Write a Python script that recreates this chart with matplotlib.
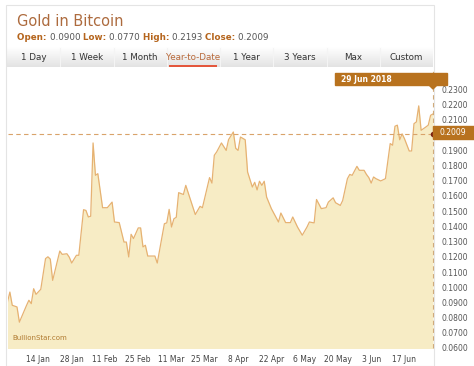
import numpy as np
import pandas as pd
import matplotlib
matplotlib.use('Agg')
import matplotlib.pyplot as plt
from matplotlib.patches import Rectangle, Polygon
from matplotlib.text import Annotation
from matplotlib.colors import LinearSegmentedColormap

# Data: gold priced in bitcoin, 2018 year-to-date (day offsets from 1 Jan)
start = '2018-01-01'
day_offset = [0, 1, 2, 4, 5, 8, 9, 10, 11, 12,
              14, 16, 17, 18, 19, 22, 23, 25, 26, 27,
              29, 30, 32, 33, 34, 35, 36, 37, 38, 40,
              42, 44, 45, 47, 49, 50, 51, 52, 53, 55,
              56, 57, 58, 59, 62, 63, 66, 67, 68, 69,
              70, 71, 72, 74, 75, 79, 81, 82, 85, 86,
              87, 88, 90, 92, 93, 95, 96, 97, 98, 100,
              101, 103, 104, 105, 106, 107, 108, 109, 111, 112,
              114, 115, 117, 119, 120, 122, 124, 126, 127, 129,
              130, 132, 134, 135, 137, 138, 140, 141, 143, 144,
              145, 147, 148, 150, 151, 152, 153, 154, 155, 157,
              159, 161, 162, 163, 164, 165, 166, 167, 169, 170,
              171, 172, 173, 174, 176, 177, 178, 179]
price = [0.0903, 0.0968, 0.0881, 0.0870, 0.0770, 0.0880, 0.0914, 0.0892, 0.0990, 0.0953,
         0.0986, 0.1188, 0.1200, 0.1185, 0.1045, 0.1238, 0.1216, 0.1220, 0.1197, 0.1159,
         0.1210, 0.1210, 0.1510, 0.1505, 0.1462, 0.1467, 0.1949, 0.1736, 0.1747, 0.1523,
         0.1523, 0.1560, 0.1429, 0.1425, 0.1297, 0.1297, 0.1199, 0.1348, 0.1320, 0.1390,
         0.1390, 0.1265, 0.1276, 0.1205, 0.1205, 0.1159, 0.1418, 0.1423, 0.1512, 0.1396,
         0.1450, 0.1460, 0.1622, 0.1610, 0.1670, 0.1478, 0.1532, 0.1523, 0.1721, 0.1685,
         0.1868, 0.1890, 0.1949, 0.1900, 0.1971, 0.2021, 0.1914, 0.1900, 0.1988, 0.1970,
         0.1758, 0.1659, 0.1690, 0.1640, 0.1697, 0.1670, 0.1697, 0.1593, 0.1517, 0.1488,
         0.1429, 0.1488, 0.1425, 0.1425, 0.1462, 0.1396, 0.1342, 0.1396, 0.1429, 0.1423,
         0.1577, 0.1517, 0.1523, 0.1560, 0.1588, 0.1556, 0.1538, 0.1570, 0.1714, 0.1742,
         0.1736, 0.1795, 0.1769, 0.1769, 0.1742, 0.1721, 0.1685, 0.1725, 0.1714, 0.1699,
         0.1714, 0.1945, 0.1934, 0.2059, 0.2066, 0.1970, 0.2009, 0.1977, 0.1896, 0.1896,
         0.2076, 0.2087, 0.2193, 0.2032, 0.2054, 0.2066, 0.2131, 0.2140]

tick_dates = ['2018-01-14', '2018-01-28', '2018-02-11', '2018-02-25', '2018-03-11', '2018-03-25',
              '2018-04-08', '2018-04-22', '2018-05-06', '2018-05-20', '2018-06-03', '2018-06-17']
tick_labels = ['14 Jan', '28 Jan', '11 Feb', '25 Feb', '11 Mar', '25 Mar',
               '8 Apr', '22 Apr', '6 May', '20 May', '3 Jun', '17 Jun']
y_ticks = [0.06, 0.07, 0.08, 0.09, 0.10, 0.11, 0.12, 0.13, 0.14, 0.15,
           0.16, 0.17, 0.18, 0.19, 0.21, 0.22, 0.23]
tabs = ['1 Day', '1 Week', '1 Month', 'Year-to-Date', '1 Year', '3 Years', 'Max', 'Custom']
stats = [('Open:', '0.0900'), ('Low:', '0.0770'), ('High:', '0.2193'), ('Close:', '0.2009')]
close_value = 0.2009
last_date = '2018-06-29'

W, H = 474, 366
fig = plt.figure(figsize=(W / 100, H / 100), dpi=100)
fig.patch.set_facecolor('white')


def fx(px):
    return px / W


def fy(py):
    return 1 - py / H


brown = '#b8721e'
title_col = '#ad6b3e'

# outer frame
fig.patches.append(Rectangle((fx(6), fy(366)), fx(434) - fx(6), fy(5) - fy(366),
                             transform=fig.transFigure, fill=False,
                             edgecolor='#e4e4e4', lw=0.8))

# title and stats line
fig.text(fx(17), fy(22), 'Gold in Bitcoin', color=title_col, fontsize=10.5,
         va='center', ha='left')
prev = None
for lab, val in stats:
    if prev is None:
        prev = fig.text(fx(17), fy(40), lab + ' ', color='#b5651d', fontsize=6.3,
                        fontweight='bold', va='baseline', ha='left')
    else:
        prev = fig.add_artist(Annotation(lab + ' ', xy=(1, 0), xycoords=prev,
                                         va='bottom', ha='left', color='#b5651d',
                                         fontsize=6.3, fontweight='bold'))
    prev = fig.add_artist(Annotation(val + ' ', xy=(1, 0), xycoords=prev,
                                     va='bottom', ha='left', color='#555555', fontsize=6.3))

# tab bar with gradient
tab_ax = fig.add_axes([fx(7), fy(67), fx(433) - fx(7), fy(47) - fy(67)])
grad = np.linspace(0, 1, 50).reshape(-1, 1)
tab_ax.imshow(grad, aspect='auto',
              cmap=LinearSegmentedColormap.from_list('g', ['#ffffff', '#e3e3e3']),
              extent=[0, len(tabs), 0, 1], origin='upper')
tab_ax.set_xlim(0, len(tabs))
tab_ax.set_ylim(0, 1)
tab_ax.axis('off')
for i, name in enumerate(tabs):
    tab_ax.text(i + 0.5, 0.5, name, ha='center', va='center', fontsize=6.3,
                color='#b8693a' if name == 'Year-to-Date' else '#333333')
    if i > 0:
        tab_ax.plot([i, i], [0.05, 0.95], color='#f4f4f4', lw=0.8)
tab_ax.plot([3.05, 3.95], [0.06, 0.06], color='#e4482b', lw=1.3, solid_capstyle='butt')

# main chart
ax = fig.add_axes([fx(7.5), fy(348), fx(433) - fx(7.5), fy(70) - fy(348)])
x = (pd.Timestamp(start) + pd.to_timedelta(day_offset, unit='D')).to_numpy()
ax.fill_between(x, price, 0.0, color='#f7ecc5', lw=0)
ax.plot(x, price, color='#e6b272', lw=0.9)
x_end = np.datetime64(last_date)
ax.set_xlim(np.datetime64(start), x_end)
ax.set_ylim(0.06, 0.0600 + (348 - 70) / 1520)
ax.axhline(close_value, color='#d9a36a', lw=0.8, ls=(0, (4, 3)))
ax.axvline(x_end, color='#cfa774', lw=0.8, ls=(0, (4, 3)), clip_on=False)
ax.plot([x_end], [close_value], 'o', color='#7a1f12', ms=3, clip_on=False, zorder=5)

for s in ax.spines.values():
    s.set_visible(False)
ax.set_xticks(pd.to_datetime(tick_dates).to_numpy())
ax.set_xticklabels(tick_labels)
ax.yaxis.tick_right()
ax.set_yticks(y_ticks)
ax.set_yticklabels(['%.4f' % v for v in y_ticks])
ax.tick_params(axis='x', length=0, pad=5, labelsize=5.5, labelcolor='#444444')
ax.tick_params(axis='y', length=0, pad=6, labelsize=5.5, labelcolor='#555555')
ax.patch.set_alpha(0)

# watermark
ax.text(0.012, 0.025, 'BullionStar.com', transform=ax.transAxes, fontsize=5,
        color='#b07a30', ha='left', va='bottom')

# close label on the right axis
fig.patches.append(Rectangle((fx(433), fy(139)), fx(474) - fx(433), fy(126) - fy(139),
                             transform=fig.transFigure, color=brown, zorder=5))
fig.text(fx(439), fy(132.5), '%.4f' % close_value, color='white', fontsize=5.5,
         va='center', ha='left', zorder=6)

# date tooltip
fig.patches.append(Rectangle((fx(335), fy(85)), fx(447) - fx(335), fy(72.5) - fy(85),
                             transform=fig.transFigure, color=brown, zorder=5))
fig.patches.append(Polygon([(fx(429), fy(85)), (fx(437), fy(85)), (fx(433), fy(89))],
                           closed=True, transform=fig.transFigure, color=brown, zorder=5))
fig.text(fx(341), fy(79), '29 Jun 2018', color='white', fontsize=5.5,
         fontweight='bold', va='center', ha='left', zorder=6)

fig.savefig('out.png', dpi=100)
